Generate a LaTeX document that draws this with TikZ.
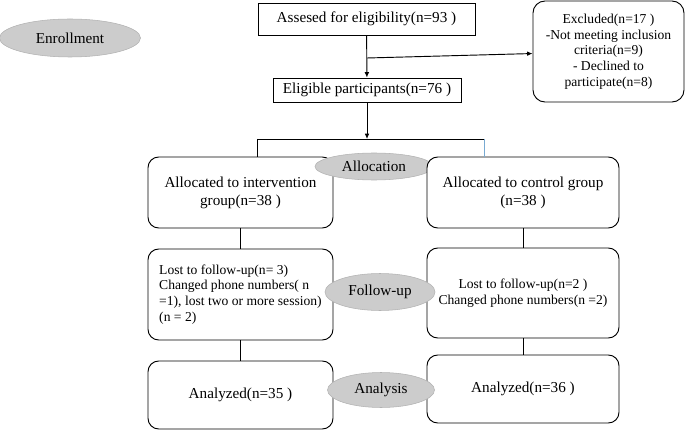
\documentclass[tikz,border=0pt]{standalone}
\usepackage{fontspec}
\setmainfont{Liberation Serif}
\usetikzlibrary{shapes.geometric,arrows.meta}

\begin{document}
\begin{tikzpicture}[x=0.75pt,y=-0.75pt,
    plainbox/.style={rectangle, draw=black, line width=0.7pt, inner sep=0pt,
      align=center, font=\fontsize{11.4}{13.7}\selectfont},
    roundbox/.style={plainbox, rounded corners=8pt, fill=white},
    grayoval/.style={ellipse, draw=black!30, fill=black!20, inner sep=0pt,
      font=\fontsize{11.4}{13.7}\selectfont},
    smalltext/.style={font=\fontsize{10.2}{11.8}\selectfont},
    link/.style={line width=0.7pt},
    arr/.style={link, -{Latex[length=4pt,width=3.5pt]}}]

    \useasboundingbox (0,0) rectangle (685,431);

    \node[grayoval, minimum width=105.75pt, minimum height=28.5pt] (enr) at (70,38) {Enrollment};

    \node[plainbox, minimum width=162.75pt, minimum height=24pt] (asd) at (366.5,19) {Assesed for eligibility(n=93 )};
    \node[plainbox, minimum width=141pt, minimum height=18pt] (elg) at (367,90) {Eligible participants(n=76 )};
    \node[roundbox, smalltext, rounded corners=9pt, minimum width=113.25pt, minimum height=75.75pt] (excl) at (608.5,51.5)
      {Excluded(n=17 )\\-Not meeting inclusion\\criteria(n=9)\\- Declined to\\participate(n=8)};

    \node[roundbox, minimum width=138.75pt, minimum height=53.25pt] (al1) at (240.5,192.5) {Allocated to intervention\\group(n=38 )};
    \node[grayoval, minimum width=88.5pt, minimum height=20.25pt] (alE) at (374,166.5) {Allocation};
    \node[roundbox, minimum width=144pt, minimum height=53.25pt] (al2) at (523,192.5) {Allocated to control group\\(n=38 )};

    \node[roundbox, smalltext, align=left, minimum width=138.75pt, minimum height=68.25pt] (fu1) at (240.5,294.5)
      {Lost to follow-up(n= 3)\\Changed phone numbers( n\\=1), lost two or more session)\\(n = 2)};
    \node[roundbox, smalltext, minimum width=144pt, minimum height=67.5pt] (fu2) at (523,293)
      {Lost to follow-up(n=2 )\\Changed phone numbers(n =2)};
    \node[grayoval, minimum width=82.5pt, minimum height=27.75pt] (fuE) at (380,292) {Follow-up};

    \node[roundbox, minimum width=138.75pt, minimum height=51pt] (an1) at (240.5,395) {Analyzed(n=35 )};
    \node[roundbox, minimum width=144pt, minimum height=51pt] (an2) at (523,389) {Analyzed(n=36 )};
    \node[grayoval, minimum width=80.25pt, minimum height=26.25pt] (anE) at (381,390) {Analysis};

    \coordinate (br) at (367,58);
    \coordinate (sp) at (367,139);
    \coordinate (jl) at (257,139);
    \coordinate (jr) at (484,139);

    \draw[arr] (asd) -- (elg);
    \draw[arr] (br) -- (excl);
    \draw[arr] (elg) -- (sp);
    \draw[link] (jl) -- (jr);
    \draw[link] (jl) -- (jl |- al1.north);
    \draw[link, color={rgb,255:red,120;green,170;blue,210}] (jr) -- (jr |- al2.north);

    \draw[link] (al1) -- (fu1);
    \draw[link] (al2) -- (fu2);
    \draw[link] (fu1) -- (an1);
    \draw[link] (fu2) -- (an2);

  \end{tikzpicture}
\end{document}
